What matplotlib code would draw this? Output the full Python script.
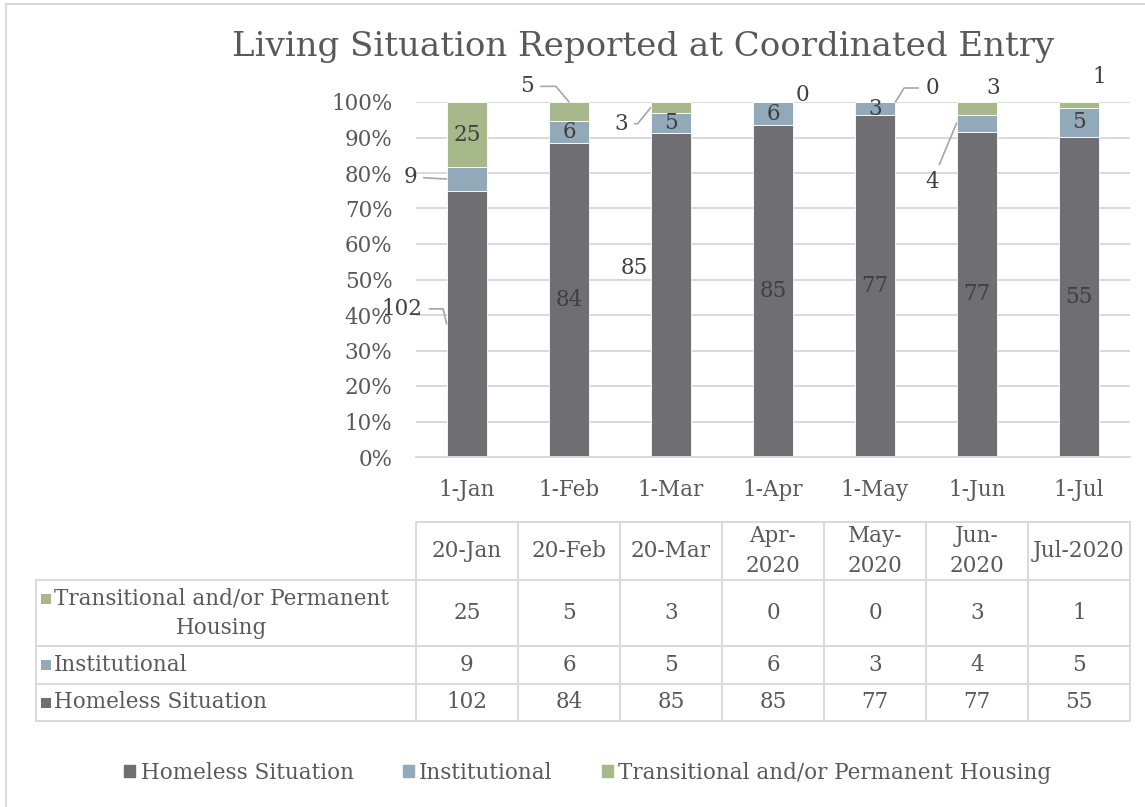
import matplotlib
matplotlib.use("Agg")
import matplotlib.pyplot as plt
from matplotlib.patches import Patch, Rectangle
from matplotlib.lines import Line2D
from matplotlib.transforms import offset_copy
import numpy as np

plt.rcParams['font.family'] = ['DejaVu Serif']

# data
months = ["1-Jan", "1-Feb", "1-Mar", "1-Apr", "1-May", "1-Jun", "1-Jul"]
table_cols = ["20-Jan", "20-Feb", "20-Mar", "Apr-\n2020", "May-\n2020", "Jun-\n2020", "Jul-2020"]
series_names = ["Homeless Situation", "Institutional", "Transitional and/or Permanent Housing"]
homeless = [102, 84, 85, 85, 77, 77, 55]
institutional = [9, 6, 5, 6, 3, 4, 5]
transitional = [25, 5, 3, 0, 0, 3, 1]

colors = ["#6f6e73", "#91a9b9", "#a7b88a"]
grid_c = "#d9d9d9"
text_c = "#595959"
label_c = "#404040"
lead_c = "#a6a6a6"
fs = 15.5

# label nudges as in the excel chart: (series, col) -> dx px, dy px, leader anchor, leader angle
nudges = {
    (0, 0): (-65, 15, 'left', 103),
    (0, 2): (-37, 27, None, None),
    (1, 0): (-57, 2, 'left', None),
    (1, 5): (-45, -59, 'left', None),
    (2, 1): (-42, 25, 'top', 130),
    (2, 2): (-50, -16, 'left', 231),
    (2, 3): (29, 7, None, None),
    (2, 4): (57, 14, 'right', 58),
    (2, 5): (16, 20, None, None),
    (2, 6): (20, 28, None, None),
}

W, H = 1145, 807
fig = plt.figure(figsize=(W / 100, H / 100), dpi=100)
ax = fig.add_axes([416 / W, 1 - 457 / H, 714 / W, 355 / H])

values = np.array([homeless, institutional, transitional], dtype=float)
shares = values / values.sum(axis=0)
x = np.arange(len(months))
bw = 0.4
bottoms = []
bottom = np.zeros(len(months))
for k in range(3):
    ax.bar(x, shares[k], bw, bottom=bottom, color=colors[k], edgecolor="white",
           linewidth=0.6, zorder=2)
    bottoms.append(bottom.copy())
    bottom += shares[k]

ax.set_xlim(-0.5, len(months) - 0.5)
ax.set_ylim(0, 1)
ax.set_yticks(np.linspace(0, 1, 11))
ax.set_yticklabels([f"{i * 10}%" for i in range(11)])
ax.set_xticks(x)
ax.set_xticklabels(months)
ax.yaxis.grid(True, color=grid_c, linewidth=1.4, zorder=0)
ax.set_axisbelow(True)
for s in ["top", "right", "left"]:
    ax.spines[s].set_visible(False)
ax.spines["bottom"].set_color(grid_c)
ax.spines["bottom"].set_linewidth(1.4)
ax.tick_params(axis="both", length=0, labelsize=fs, colors=text_c)
ax.tick_params(axis="y", pad=17)
ax.tick_params(axis="x", pad=16)

# data labels
for k in range(3):
    for i in range(len(months)):
        v = int(values[k][i])
        center = bottoms[k][i] + shares[k][i] / 2
        dx, dy, anchor, angle = nudges.get((k, i), (0, 0, None, None))
        tr = offset_copy(ax.transData, fig=fig, x=dx, y=dy, units='dots')
        if anchor is None:
            ax.text(i, center, str(v), transform=tr, ha="center", va="center",
                    fontsize=fs, color=label_c, zorder=4)
        else:
            if anchor == 'left':
                xy = (i - bw / 2, center)
            elif anchor == 'right':
                xy = (i + bw / 2, center)
            else:
                xy = (i, bottoms[k][i] + shares[k][i])
            cs = "arc3" if angle is None else f"angle,angleA=0,angleB={angle},rad=0"
            ax.annotate(str(v), xy=xy, xytext=(i, center), textcoords=tr,
                        ha="center", va="center", fontsize=fs, color=label_c, zorder=4,
                        arrowprops=dict(arrowstyle="-", color=lead_c, lw=1.2,
                                        shrinkA=3, shrinkB=0, connectionstyle=cs))

fig.text(643 / W, 1 - 47 / H, "Living Situation Reported at Coordinated Entry",
         ha="center", va="center", fontsize=24.5, color=text_c)

# data table under the plot
col_x = ax.transData.transform([(i - 0.5, 0) for i in range(len(months) + 1)])[:, 0] / W
left_x = 36 / W
rows_y = [522, 580, 646, 684, 721]
fy = [1 - r / H for r in rows_y]


def hline(x0, x1, y):
    fig.add_artist(Line2D([x0, x1], [y, y], transform=fig.transFigure, color=grid_c, lw=1.4))


def vline(xx, y0, y1):
    fig.add_artist(Line2D([xx, xx], [y0, y1], transform=fig.transFigure, color=grid_c, lw=1.4))


hline(col_x[0], col_x[-1], fy[0])
for yy in fy[1:]:
    hline(left_x, col_x[-1], yy)
for cx in col_x:
    vline(cx, fy[0], fy[-1])
vline(left_x, fy[1], fy[-1])

for j, lab in enumerate(table_cols):
    fig.text((col_x[j] + col_x[j + 1]) / 2, (fy[0] + fy[1]) / 2, lab, ha="center",
             va="center", fontsize=fs, color=text_c, linespacing=1.45)

row_order = [2, 1, 0]
row_labels = ["Transitional and/or Permanent\nHousing", "Institutional", "Homeless Situation"]
for r, k in enumerate(row_order):
    ymid = (fy[r + 1] + fy[r + 2]) / 2
    for j in range(len(months)):
        fig.text((col_x[j] + col_x[j + 1]) / 2, ymid, str(int(values[k][j])), ha="center",
                 va="center", fontsize=fs, color=text_c)
    if "\n" in row_labels[r]:
        ty = fy[r + 1] - 19 / H
        fig.text(54 / W, ymid, row_labels[r], ha="left", va="center", fontsize=fs,
                 color=text_c, multialignment="center", linespacing=1.45)
    else:
        ty = ymid
        fig.text(54 / W, ymid, row_labels[r], ha="left", va="center", fontsize=fs, color=text_c)
    fig.add_artist(Rectangle((41 / W, ty - 5 / H), 10 / W, 10 / H, transform=fig.transFigure,
                             color=colors[k], lw=0))

# legend
handles = [Patch(color=c) for c in colors]
fig.legend(handles, series_names, ncol=3, loc="center", bbox_to_anchor=(588 / W, 1 - 773 / H),
           frameon=False, fontsize=fs, handlelength=0.5, handleheight=0.5,
           handletextpad=0.25, columnspacing=2.3, labelcolor=text_c)

# chart border (left and top edges only visible)
fig.add_artist(Line2D([6 / W, 6 / W], [0, 1 - 4 / H], transform=fig.transFigure, color=grid_c, lw=1.5))
fig.add_artist(Line2D([6 / W, 1], [1 - 4 / H, 1 - 4 / H], transform=fig.transFigure, color=grid_c, lw=1.5))

fig.savefig("out.png", dpi=100)
